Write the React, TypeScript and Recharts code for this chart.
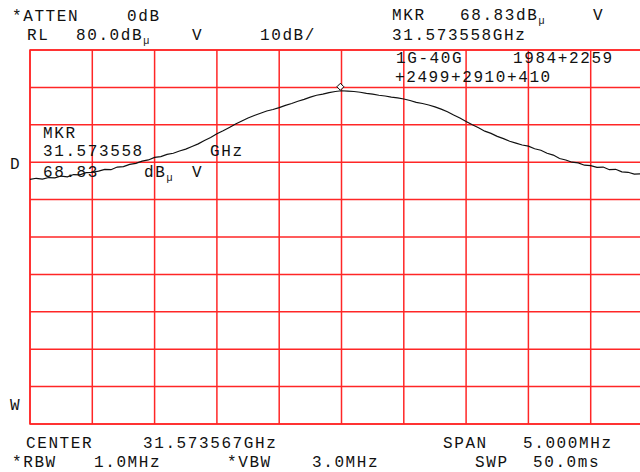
import React from 'react';
import { ComposedChart, Line, Scatter, XAxis, YAxis, CartesianGrid, ReferenceArea } from 'recharts';

// frequency offset from center, MHz (span 5 MHz, 0.5 MHz/div)
const freqOffsets = [
    -2.5, -2.45, -2.4, -2.35, -2.3, -2.25, -2.2, -2.15, -2.1, -2.05,
    -2.0, -1.95, -1.9, -1.85, -1.8, -1.75, -1.7, -1.65, -1.6, -1.55,
    -1.5, -1.45, -1.4, -1.35, -1.3, -1.25, -1.2, -1.15, -1.1, -1.05,
    -1.0, -0.95, -0.9, -0.85, -0.8, -0.75, -0.7, -0.65, -0.6, -0.55,
    -0.5, -0.45, -0.4, -0.35, -0.3, -0.25, -0.2, -0.15, -0.1, -0.05,
    0.0, 0.05, 0.1, 0.15, 0.2, 0.25, 0.3, 0.35, 0.4, 0.45,
    0.5, 0.55, 0.6, 0.65, 0.7, 0.75, 0.8, 0.85, 0.9, 0.95,
    1.0, 1.05, 1.1, 1.15, 1.2, 1.25, 1.3, 1.35, 1.4, 1.45,
    1.5, 1.55, 1.6, 1.65, 1.7, 1.75, 1.8, 1.85, 1.9, 1.95,
    2.0, 2.05, 2.1, 2.15, 2.2, 2.25, 2.3, 2.35, 2.4, 2.45, 2.5,
];

// trace level, dBuV
const traceLevels = [
    45.4, 45.7, 45.5, 45.9, 45.8, 46.3, 46.1, 46.7, 46.6, 47.2,
    47.3, 47.6, 48.1, 48.0, 48.7, 48.8, 49.4, 49.7, 50.3, 50.6,
    51.3, 51.5, 52.1, 52.4, 53.0, 53.5, 54.2, 54.9, 55.8, 56.6,
    57.6, 58.4, 59.3, 60.2, 61.0, 61.8, 62.5, 63.1, 63.7, 64.1,
    64.6, 65.2, 65.7, 66.3, 66.8, 67.4, 67.9, 68.2, 68.6, 68.9,
    69.1, 69.0, 68.9, 68.7, 68.4, 68.2, 67.9, 67.7, 67.4, 67.2,
    66.9, 66.5, 66.0, 65.7, 65.3, 64.8, 64.2, 63.5, 62.6, 61.8,
    60.9, 60.0, 59.2, 58.3, 57.7, 56.9, 56.3, 55.6, 55.1, 54.6,
    54.3, 53.6, 53.2, 52.4, 51.9, 51.0, 50.6, 50.0, 49.8, 49.2,
    49.1, 48.6, 48.7, 48.0, 48.1, 47.4, 47.3, 46.8, 46.9, 46.3, 46.4,
];

const freqTicks = [-2.5, -2, -1.5, -1, -0.5, 0, 0.5, 1, 1.5, 2, 2.5];
const levelTicks = [-20, -10, 0, 10, 20, 30, 40, 50, 60, 70, 80];

const markerOffset = -0.009; // 31.573558 vs center 31.573567 GHz
const markerLevel = 69.1;

const traceData = freqOffsets.map((f, i) => ({ f, v: traceLevels[i] }));
const markerData = [{ f: markerOffset, v: markerLevel }];

const GRID_RED = '#ff2626';

const Diamond = (props: any) => {
    const { cx, cy } = props;
    const y = cy - 4;
    return (
        <polygon
            points={`${cx},${y - 3.5} ${cx + 3.5},${y} ${cx},${y + 3.5} ${cx - 3.5},${y}`}
            fill="#fff"
            stroke="#000"
            strokeWidth={1}
        />
    );
};

const T: React.FC<{ x: number; y: number; children: React.ReactNode }> = ({ x, y, children }) => (
    <text x={x} y={y}>{children}</text>
);

const Mu = () => <tspan fontSize={10} dy={4}>µ</tspan>;

const App: React.FC = () => {
    return (
        <div style={{ position: 'fixed', left: 0, top: 0, width: 640, height: 472, overflow: 'hidden', background: '#fff' }}>
            <ComposedChart
                width={700}
                height={472}
                data={traceData}
                margin={{ top: 50, right: 47, bottom: 48, left: 30 }}
            >
                <XAxis type="number" dataKey="f" domain={[-2.5, 2.5]} ticks={freqTicks} hide />
                <YAxis type="number" dataKey="v" domain={[-20, 80]} ticks={levelTicks} hide width={0} />
                <CartesianGrid stroke={GRID_RED} strokeWidth={1.5} />
                <ReferenceArea x1={-2.5} x2={2.5} y1={-20} y2={80} fill="none" stroke={GRID_RED} strokeWidth={1.5} />
                <Line
                    type="linear"
                    dataKey="v"
                    stroke="#111"
                    strokeWidth={1.2}
                    dot={false}
                    isAnimationActive={false}
                />
                <Scatter data={markerData} dataKey="v" shape={<Diamond />} isAnimationActive={false} />
            </ComposedChart>
            <svg
                width={640}
                height={472}
                style={{ position: 'absolute', left: 0, top: 0, pointerEvents: 'none' }}
                fontFamily="'Liberation Mono', 'DejaVu Sans Mono', monospace"
                fontSize={16}
                letterSpacing={1.6}
                fill="#111"
            >
                <T x={12} y={21}>*ATTEN</T>
                <T x={127} y={21}>0dB</T>
                <T x={27} y={40}>RL</T>
                <T x={76} y={40}>80.0dB<Mu /></T>
                <T x={192} y={40}>V</T>
                <T x={260} y={40}>10dB/</T>

                <T x={392} y={20}>MKR</T>
                <T x={460} y={20}>68.83dB<Mu /></T>
                <T x={593} y={20}>V</T>
                <T x={392} y={40}>31.573558GHz</T>
                <T x={396} y={63}>1G-40G</T>
                <T x={513} y={63}>1984+2259</T>
                <T x={395} y={82}>+2499+2910+410</T>

                <T x={43} y={138}>MKR</T>
                <T x={43} y={156}>31.573558</T>
                <T x={210} y={156}>GHz</T>
                <T x={43} y={177}>68.83</T>
                <T x={144} y={177}>dB<Mu /></T>
                <T x={192} y={177}>V</T>

                <T x={10} y={169}>D</T>
                <T x={10} y={410}>W</T>

                <T x={26} y={448}>CENTER</T>
                <T x={143} y={448}>31.573567GHz</T>
                <T x={443} y={448}>SPAN</T>
                <T x={523} y={448}>5.000MHz</T>
                <T x={12} y={467}>*RBW</T>
                <T x={94} y={467}>1.0MHz</T>
                <T x={227} y={467}>*VBW</T>
                <T x={312} y={467}>3.0MHz</T>
                <T x={475} y={467}>SWP</T>
                <T x={533} y={467}>50.0ms</T>
            </svg>
        </div>
    );
};

export default App;
